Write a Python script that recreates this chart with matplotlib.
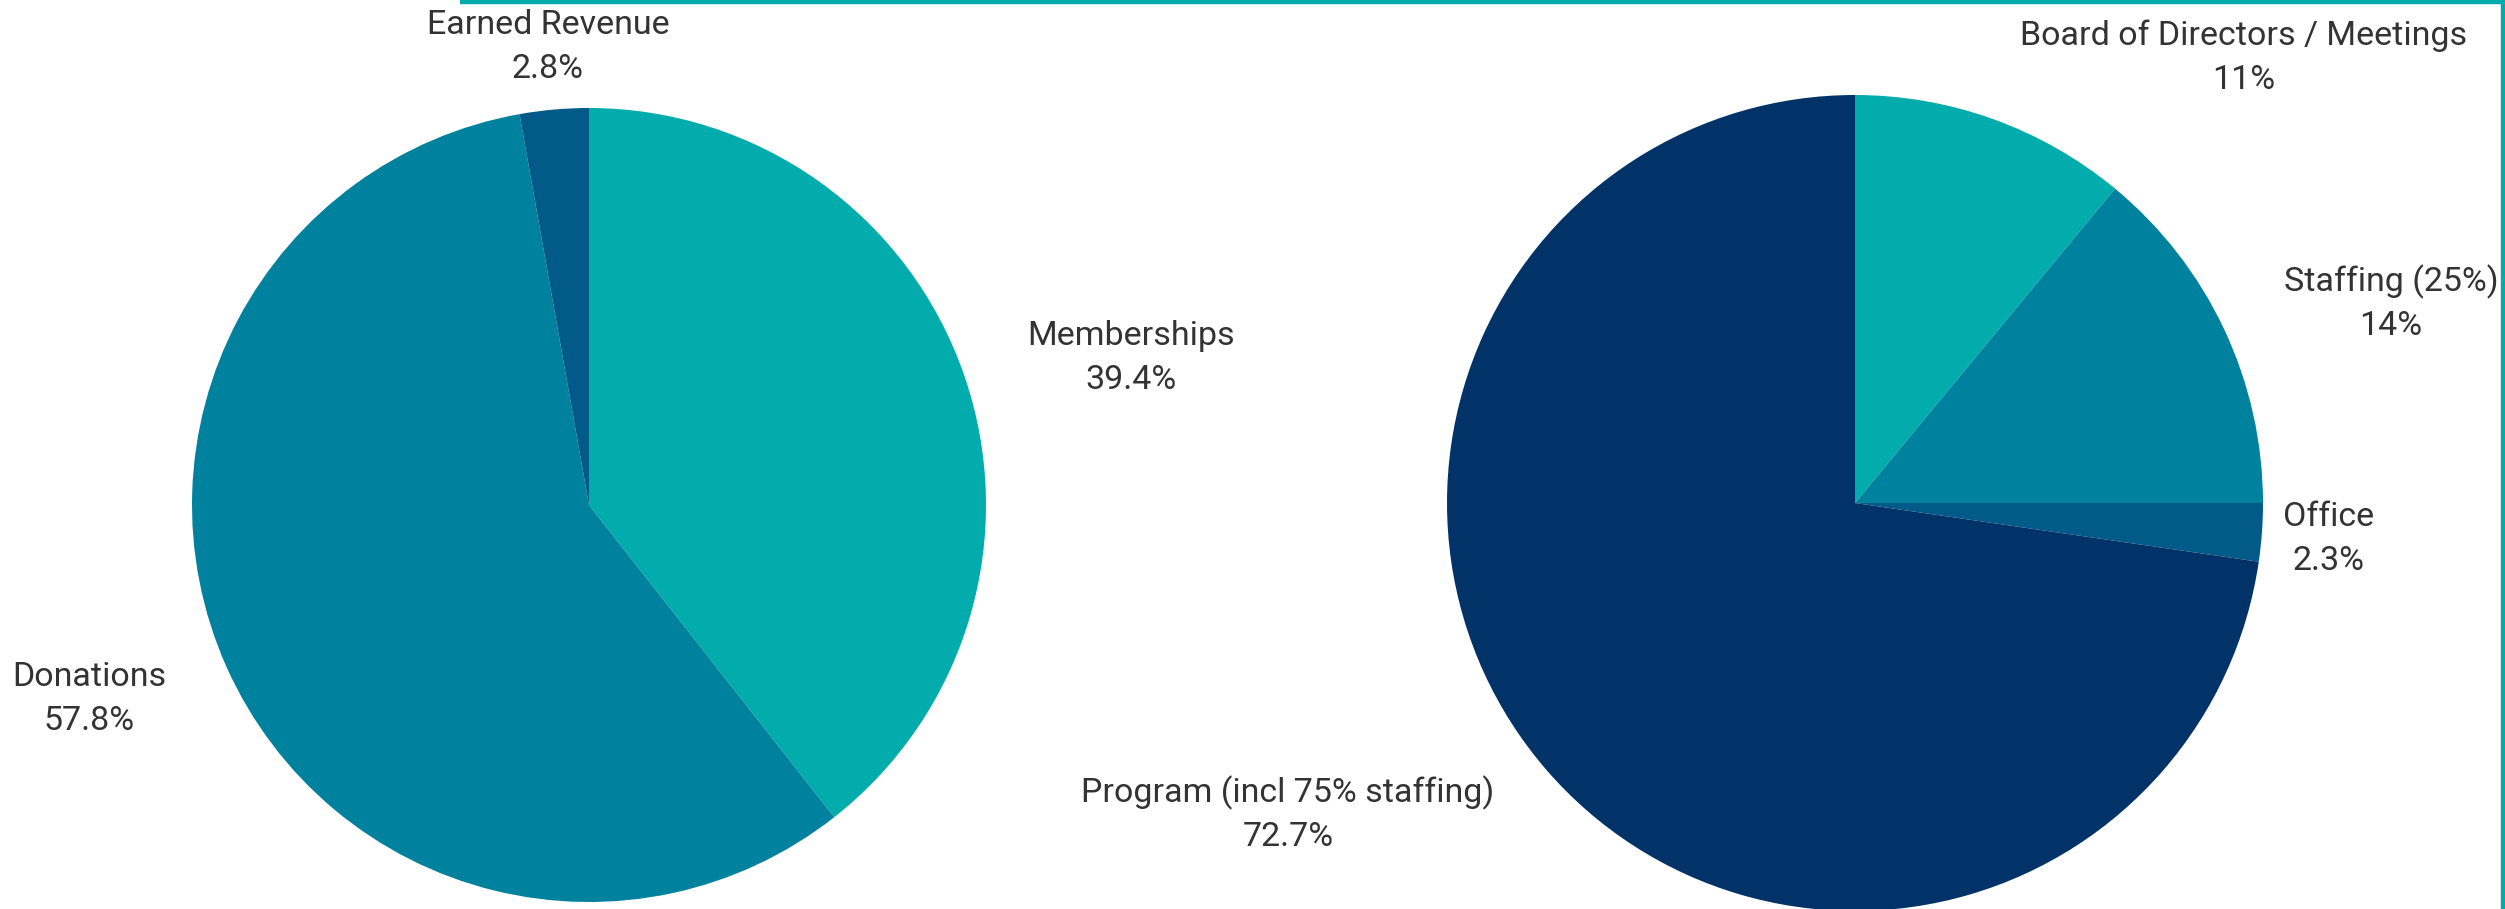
import matplotlib
matplotlib.use("Agg")
import matplotlib.pyplot as plt

# ---- data ----
rev_labels = ["Memberships", "Donations", "Earned Revenue"]
rev_values = [39.4, 57.8, 2.8]
rev_pct = ["39.4%", "57.8%", "2.8%"]

exp_labels = ["Board of Directors / Meetings", "Staffing (25%)", "Office",
              "Program (incl 75% staffing)"]
exp_values = [11.0, 14.0, 2.3, 72.7]
exp_pct = ["11%", "14%", "2.3%", "72.7%"]

rev_colors = ["#03ACAC", "#00829F", "#015A87"]
exp_colors = ["#03ACAC", "#00829F", "#015A87", "#023368"]

W, H = 2505, 909
fig = plt.figure(figsize=(W / 100, H / 100), dpi=100)
ax = fig.add_axes([0, 0, 1, 1])

def Y(y):
    return H - y

ax.pie(rev_values, colors=rev_colors, startangle=90, counterclock=False,
       center=(589, Y(505)), radius=397, frame=True,
       wedgeprops=dict(linewidth=0))
ax.pie(exp_values, colors=exp_colors, startangle=90, counterclock=False,
       center=(1855, Y(503)), radius=408, frame=True,
       wedgeprops=dict(linewidth=0))

ax.set_xlim(0, W)
ax.set_ylim(0, H)
ax.set_aspect("equal")
ax.axis("off")

# label positions (pixel coordinates of label centre, first line)
rev_pos = [(1131, 336), (89, 677), (548, 25)]
exp_pos = [(2244, 36), (2391, 282), (2329, 517), (1288, 793)]

txt_kw = dict(fontsize=24.5, color="#333333", ha="center", va="center",
              family=["Roboto", "DejaVu Sans"], linespacing=1.0)
for (x, y), lab, pct in zip(rev_pos, rev_labels, rev_pct):
    ax.text(x, Y(y), lab, **txt_kw)
    ax.text(x, Y(y + 44), pct, **txt_kw)
for (x, y), lab, pct in zip(exp_pos, exp_labels, exp_pct):
    ax.text(x, Y(y), lab, **txt_kw)
    ax.text(x, Y(y + 44), pct, **txt_kw)

# decorative border lines
ax.plot([460, W], [Y(2), Y(2)], color="#03ACAC", linewidth=3.2,
        solid_capstyle="butt", clip_on=False)
ax.plot([2503, 2503], [0, H], color="#03ACAC", linewidth=3.2,
        solid_capstyle="butt", clip_on=False)

fig.savefig("out.png", dpi=100, facecolor="white")
